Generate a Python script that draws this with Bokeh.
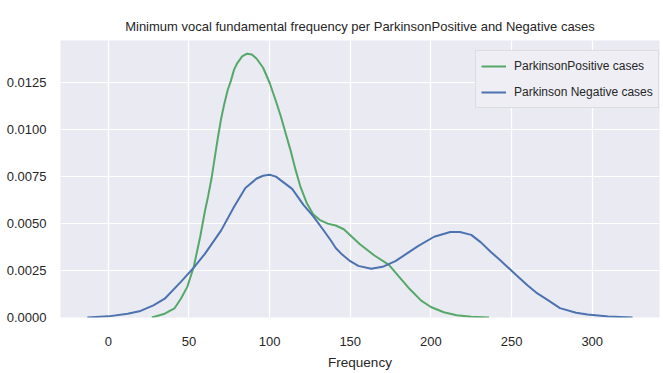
from bokeh.plotting import figure
from bokeh.models import FixedTicker, NumeralTickFormatter, Range1d, Legend, LegendItem
from bokeh.embed import file_html
from bokeh.resources import INLINE

# Parkinson positive (green) KDE
pos_x = [27, 35, 41, 45, 49, 53, 57, 60, 62, 64, 66, 68, 70, 72, 74, 76, 78, 80, 83,
         86, 89, 92, 96, 100, 104, 107, 110, 113, 116, 119, 123, 127, 131, 136, 141,
         146, 151, 156, 165, 174, 181, 187, 194, 200, 208, 216, 225, 236]
pos_y = [0.0, 0.0002, 0.00048, 0.0010, 0.00163, 0.0027, 0.0043, 0.0057, 0.0065,
         0.0074, 0.0085, 0.0096, 0.0106, 0.0114, 0.0121, 0.0126, 0.0132, 0.01355,
         0.0139, 0.01405, 0.0140, 0.01378, 0.0133, 0.0125, 0.0115, 0.0107, 0.0098,
         0.0089, 0.0079, 0.0070, 0.0061, 0.0055, 0.0052, 0.0050, 0.0049, 0.0047,
         0.0043, 0.0039, 0.0033, 0.0028, 0.0021, 0.0015, 0.0009, 0.00056, 0.00028,
         0.00012, 0.00004, 0.0]

# Parkinson negative (blue) KDE
neg_x = [-13, 0, 12, 20, 28, 35, 45, 53, 60, 70, 78, 85, 92, 96, 100, 104, 107, 114,
         121, 127, 133, 138, 141, 145, 150, 155, 163, 170, 178, 185, 192, 202, 212,
         218, 225, 231, 237, 243, 253, 260, 266, 273, 280, 290, 297, 310, 325]
neg_y = [0.0, 0.00006, 0.0002, 0.00035, 0.00065, 0.0010, 0.0019, 0.00266, 0.0034,
         0.00464, 0.0059, 0.0069, 0.0074, 0.00755, 0.0076, 0.0075, 0.0073, 0.00685,
         0.0060, 0.0054, 0.0047, 0.0041, 0.0037, 0.00335, 0.0030, 0.00275, 0.0026,
         0.0027, 0.0030, 0.0034, 0.0038, 0.0043, 0.00455, 0.00455, 0.0044, 0.0040,
         0.0035, 0.00305, 0.00225, 0.0017, 0.00128, 0.0009, 0.0005, 0.00025,
         0.00016, 0.00005, 0.0]

x_ticks = [0, 50, 100, 150, 200, 250, 300]
y_ticks = [0.0, 0.0025, 0.005, 0.0075, 0.01, 0.0125]

title = "Minimum vocal fundamental frequency per ParkinsonPositive and Negative cases"
labels = ["ParkinsonPositive cases", "Parkinson Negative cases"]

FONT = "Liberation Sans"
TXT = "#262626"

p = figure(width=663, height=373, output_backend="svg", toolbar_location=None,
           x_range=Range1d(-29.6, 341.7), y_range=Range1d(0, 0.01475),
           min_border_left=60, min_border_right=4, min_border_top=40,
           min_border_bottom=56)

p.title.text = title
p.title.align = "center"
p.title.text_font = FONT
p.title.text_font_size = "13px"
p.title.text_font_style = "normal"
p.title.text_color = TXT
p.title.standoff = 13

p.background_fill_color = "#EAEAF2"
p.border_fill_color = "white"
p.outline_line_color = None
p.grid.grid_line_color = "white"
p.grid.grid_line_width = 1.2

p.xaxis.ticker = FixedTicker(ticks=x_ticks)
p.yaxis.ticker = FixedTicker(ticks=y_ticks)
p.yaxis.formatter = NumeralTickFormatter(format="0.0000")
p.xaxis.axis_label = "Frequency"
for ax in (p.xaxis, p.yaxis):
    ax.axis_line_color = None
    ax.major_tick_line_color = None
    ax.minor_tick_line_color = None
    ax.major_label_text_font = FONT
    ax.major_label_text_font_size = "13px"
    ax.major_label_text_color = TXT
    ax.axis_label_text_font = FONT
    ax.axis_label_text_font_size = "13.5px"
    ax.axis_label_text_font_style = "normal"
    ax.axis_label_text_color = TXT
p.xaxis.major_label_standoff = 13
p.xaxis.axis_label_standoff = 6
p.yaxis.major_label_standoff = 8

r1 = p.line(pos_x, pos_y, line_color="#55A868", line_width=2)
r2 = p.line(neg_x, neg_y, line_color="#4C72B0", line_width=2)

legend = Legend(items=[LegendItem(label=labels[0], renderers=[r1]),
                       LegendItem(label=labels[1], renderers=[r2])],
                location=(415, 209))
legend.label_text_font = FONT
legend.label_text_font_size = "12px"
legend.label_text_color = TXT
legend.background_fill_color = "#EEEEF4"
legend.background_fill_alpha = 1.0
legend.border_line_color = "#CCCCCC"
legend.border_line_width = 1
legend.glyph_width = 25
legend.spacing = 6
legend.padding = 5
legend.margin = 0
legend.label_standoff = 8
p.add_layout(legend)

open("out.html", "w").write(file_html(p, INLINE))
